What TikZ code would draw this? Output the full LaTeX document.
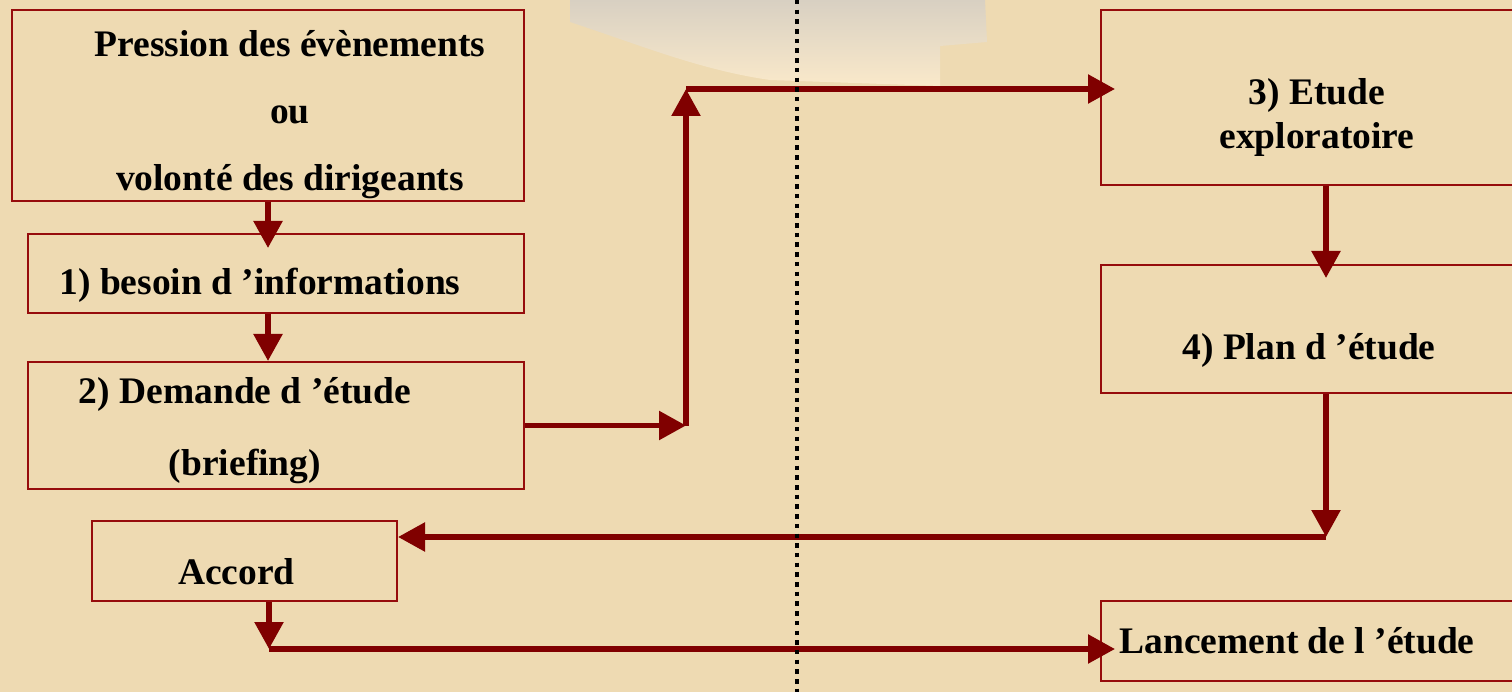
\documentclass[tikz,border=0pt]{standalone}
\usepackage{fontspec}
\setmainfont{Liberation Serif}
\usetikzlibrary{arrows.meta,positioning}
\definecolor{parchemin}{RGB}{238,218,178}
\definecolor{papierclair}{RGB}{250,233,202}
\definecolor{papiergris}{RGB}{216,208,194}
\definecolor{bordeaux}{RGB}{128,0,0}
\definecolor{cadre}{RGB}{150,12,12}

\tikzset{
  boite/.style={draw=cadre, line width=2pt, inner sep=0pt},
  texte/.style={align=center, inner sep=0pt,
    font=\bfseries\fontsize{37.5}{44}\selectfont},
  fleche/.style={draw=bordeaux, line width=5.5pt,
    -{Triangle[length=27pt,width=28pt]}},
}

\begin{document}
\begin{tikzpicture}[x=1pt,y=-1pt]
            \useasboundingbox (0,0) rectangle (1512,692);
            \fill[parchemin] (0,0) rectangle (1512,692);
            % feuille dechiree en haut
            \shade[top color=papiergris, bottom color=papierclair] (570,0) -- (570,22)
            .. controls (640,45) and (700,70) .. (770,80) -- (940,86) -- (940,46)
            -- (987,42) -- (985,0) -- cycle;

            % colonne de gauche
            \node[boite, minimum width=512pt, minimum height=191pt] (pression) at (268,105.5) {};
            \node[boite, minimum width=496pt, minimum height=79pt] (besoin) at (276,273.5) {};
            \node[boite, minimum width=496pt, minimum height=127pt] (demande) at (276,425.5) {};
            \node[boite, minimum width=305pt, minimum height=80pt] (accord) at (244.5,561) {};
            \node[texte] (pressionT) at ([shift={(22,9)}]pression.center)
            {Pression des évènements\\[23pt] ou\\[23pt] volonté des dirigeants};
            \node[texte] (besoinT) at ([shift={(-16,12)}]besoin.center) {1) besoin d ’informations};
            \node[texte] (demandeT) at ([shift={(-31,5)}]demande.center)
            {2) Demande d ’étude\\[28pt] (briefing)};
            \node[texte] (accordT) at ([shift={(-8,11)}]accord.center) {Accord};

            % colonne de droite
            \node[boite, minimum width=450pt, minimum height=175pt] (etude) at (1326,97.5) {};
            \node[boite, minimum width=450pt, minimum height=128pt] (plan) at (1326,329) {};
            \node[boite, minimum width=450pt, minimum height=80pt] (lancement) at (1326,641) {};
            \node[texte] (etudeT) at ([shift={(-9,20)}]etude.center) {3) Etude\\ exploratoire};
            \node[texte] (planT) at ([shift={(-17,21)}]plan.center) {4) Plan d ’étude};
            \node[texte] (lancementT) at ([shift={(-29,0)}]lancement.center) {Lancement de l ’étude};

            \coordinate (coude) at (686,425.5);
            \coordinate (sommet) at (686,89);
            \coordinate (retour) at (1326,537);
            \coordinate (depart) at (269,649);

            \draw[fleche, shorten >=-15pt] (pression.south) -- (pression.south |- besoin.north);
            \draw[fleche] (pression.south |- besoin.south) -- (pression.south |- demande.north);
            \draw[fleche] (demande.east) -- (coude);
            \draw[fleche] (coude) -- (sommet);
            \draw[fleche, shorten >=-15pt] (sommet) -- (sommet -| etude.west);
            \draw[fleche, shorten >=-14pt] (etude.south) -- (plan.north);
            \draw[fleche] (plan.south) -- (retour);
            \draw[fleche] (retour) -- (retour -| accord.east);
            \draw[fleche] (accord.south -| depart) -- (depart);
            \draw[fleche, shorten >=-15pt] (depart) -- (depart -| lancement.west);

            \draw[line width=4.5pt, dash pattern=on 4.5pt off 5.2pt] (797,0) -- (797,692);
\end{tikzpicture}
\end{document}
